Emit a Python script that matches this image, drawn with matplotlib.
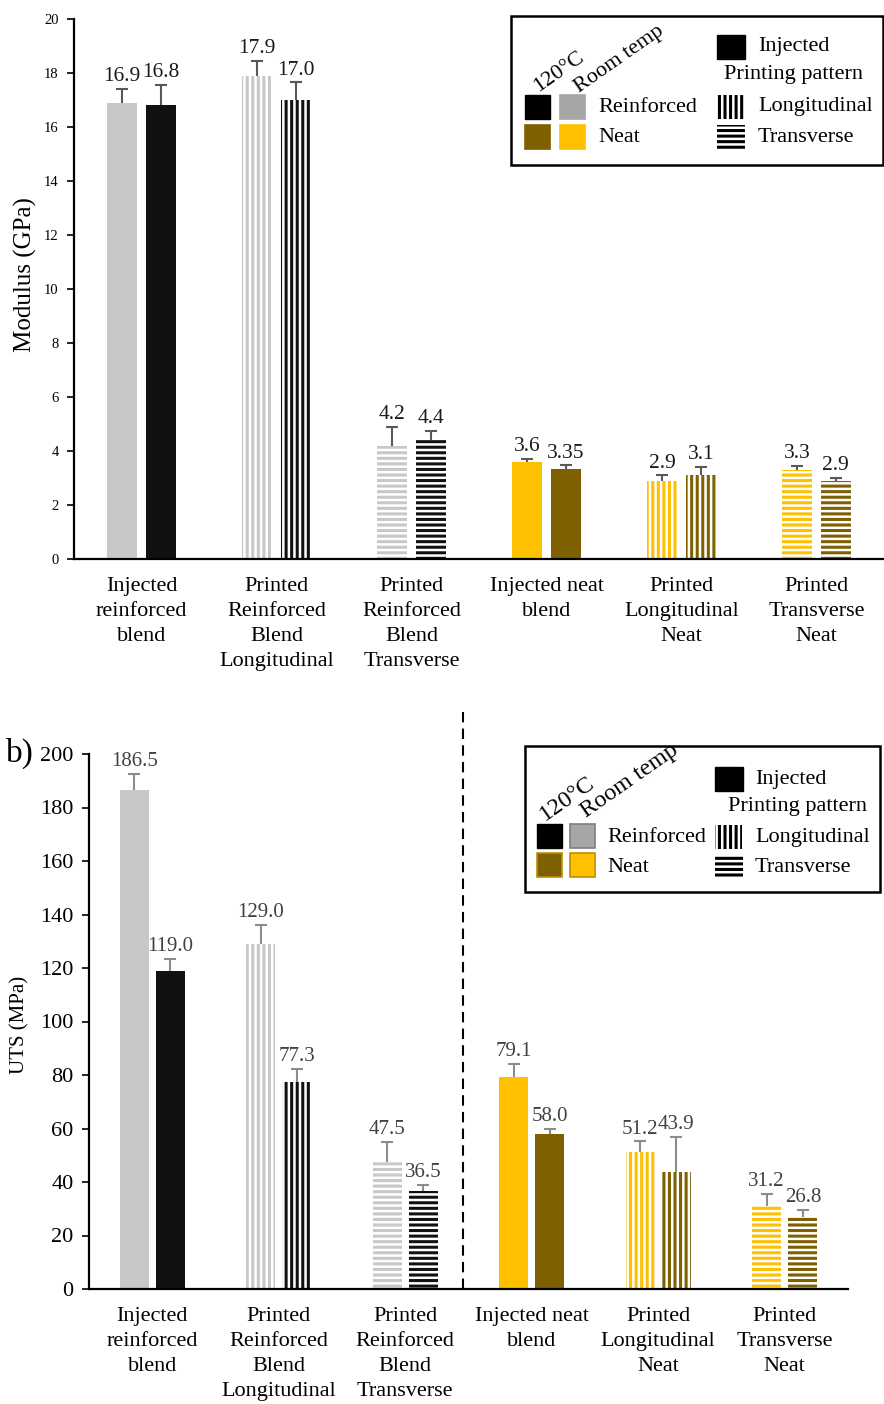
import matplotlib
matplotlib.use("Agg")
import matplotlib.pyplot as plt
from matplotlib.patches import Rectangle

plt.rcParams["font.family"] = ["Liberation Serif", "DejaVu Serif"]
plt.rcParams["hatch.linewidth"] = 2.2

# ---------------- data ----------------
categories = [
    "Injected\nreinforced\nblend",
    "Printed\nReinforced\nBlend\nLongitudinal",
    "Printed\nReinforced\nBlend\nTransverse",
    "Injected neat\nblend",
    "Printed\nLongitudinal\nNeat",
    "Printed\nTransverse\nNeat",
]

modulus_room = [16.9, 17.9, 4.2, 3.6, 2.9, 3.3]
modulus_room_err = [0.5, 0.55, 0.7, 0.12, 0.2, 0.15]
modulus_hot = [16.8, 17.0, 4.4, 3.35, 3.1, 2.9]
modulus_hot_err = [0.75, 0.65, 0.35, 0.12, 0.3, 0.1]
modulus_room_labels = ["16.9", "17.9", "4.2", "3.6", "2.9", "3.3"]
modulus_hot_labels = ["16.8", "17.0", "4.4", "3.35", "3.1", "2.9"]

uts_room = [186.5, 129.0, 47.5, 79.1, 51.2, 31.2]
uts_room_err = [6.0, 7.0, 7.5, 5.0, 4.0, 4.5]
uts_hot = [119.0, 77.3, 36.5, 58.0, 43.9, 26.8]
uts_hot_err = [4.4, 5.0, 2.5, 2.0, 13.0, 2.7]

modulus_ticks = list(range(0, 21, 2))
uts_ticks = list(range(0, 201, 20))

# ---------------- styles ----------------
GRAY = "#C8C8C8"
GRAY_LEG = "#A6A6A6"
BLACK = "#111111"
GOLD = "#FFC000"
BROWN = "#7F6000"

room_colors = [GRAY, GRAY, GRAY, GOLD, GOLD, GOLD]
hot_colors = [BLACK, BLACK, BLACK, BROWN, BROWN, BROWN]
patterns = [None, "|||", "---", None, "|||", "---"]

W, H = 884, 1404
fig = plt.figure(figsize=(W / 100, H / 100), dpi=100)


def draw_bars(ax, room, room_err, hot, hot_err, err_color, width, offset):
    for i in range(len(categories)):
        for val, err, col, dx in ((room[i], room_err[i], room_colors[i], -offset),
                                  (hot[i], hot_err[i], hot_colors[i], offset)):
            if patterns[i] is None:
                ax.bar(i + dx, val, width, color=col, linewidth=0, zorder=2)
            else:
                ax.bar(i + dx, val, width, facecolor="white", edgecolor=col,
                       hatch=patterns[i], linewidth=0, zorder=2)
            eb = ax.errorbar(i + dx, val, yerr=[[0], [err]], fmt="none",
                             ecolor=err_color, elinewidth=1.5, capsize=4.5,
                             capthick=1.5, zorder=3)
            # upper cap only
            eb[1][0].set_visible(False)


def style_axes(ax, ticks, tick_fs, ylim):
    ax.set_xlim(-0.5, 5.5)
    ax.set_ylim(*ylim)
    ax.set_yticks(ticks)
    ax.set_yticklabels([str(t) for t in ticks], fontsize=tick_fs)
    ax.set_xticks(range(len(categories)))
    ax.set_xticklabels(categories, fontsize=16, linespacing=1.42)
    ax.tick_params(axis="x", length=0, pad=13)
    ax.tick_params(axis="y", direction="out", length=5, width=1.2, pad=6)
    for s in ("top", "right"):
        ax.spines[s].set_visible(False)
    for s in ("left", "bottom"):
        ax.spines[s].set_linewidth(1.6)
        ax.spines[s].set_color("black")


# ---------------- (a) modulus ----------------
ax1 = fig.add_axes([74 / W, 1 - 559 / H, (884 - 74) / W, 540 / H])
draw_bars(ax1, modulus_room, modulus_room_err, modulus_hot, modulus_hot_err,
          "#595959", 0.22, 0.143)
style_axes(ax1, modulus_ticks, 10.5, (0, 20))
ax1.text((25 - 74) / 810, (559 - 275) / 540, "Modulus (GPa)", rotation=90,
         ha="center", va="center", fontsize=18, transform=ax1.transAxes)
for i in range(len(categories)):
    for val, err, lab, dx in ((modulus_room[i], modulus_room_err[i], modulus_room_labels[i], -0.143),
                              (modulus_hot[i], modulus_hot_err[i], modulus_hot_labels[i], 0.143)):
        ax1.annotate(lab, (i + dx, val + err), xytext=(0, 2),
                     textcoords="offset points", ha="center", va="bottom",
                     fontsize=15.5, color="#1a1a1a")

# ---------------- (b) UTS ----------------
ax2 = fig.add_axes([89 / W, 1 - 1289 / H, (848 - 89) / W, 535 / H])
draw_bars(ax2, uts_room, uts_room_err, uts_hot, uts_hot_err,
          "#8c8c8c", 0.23, 0.143)
style_axes(ax2, uts_ticks, 16, (0, 200))
ax2.text((20 - 89) / 759, (1289 - 1025) / 535, "UTS (MPa)", rotation=90,
         ha="center", va="center", fontsize=15, transform=ax2.transAxes)
for i in range(len(categories)):
    for val, err, dx in ((uts_room[i], uts_room_err[i], -0.143),
                         (uts_hot[i], uts_hot_err[i], 0.143)):
        ax2.annotate(f"{val:.1f}", (i + dx, val + err), xytext=(0, 2),
                     textcoords="offset points", ha="center", va="bottom",
                     fontsize=15, color="#404040")
ax2.axvline(2.46, ymin=0, ymax=(1289 - 712) / 535, color="black", lw=1.5,
            ls=(0, (5, 3)), clip_on=False, zorder=1)
fig.text(6 / W, 1 - 762 / H, "b)", fontsize=24, ha="left", va="baseline")


# ---------------- legends ----------------
def legend_box(x0, y0, w, h, lay):
    lax = fig.add_axes([x0 / W, 1 - (y0 + h) / H, w / W, h / H])
    lax.set_xlim(x0, x0 + w)
    lax.set_ylim(y0 + h, y0)
    lax.axis("off")
    lax.add_patch(Rectangle((x0, y0), w, h, fill=False, edgecolor="black",
                            lw=1.8, clip_on=False))
    fs = 16
    X = lambda v: x0 + v
    Y = lambda v: y0 + v
    # column headers
    lax.text(X(lay["c120"][0]), Y(lay["c120"][1]), "120°C", rotation=35,
             fontsize=lay["rot_fs"], ha="center", va="center")
    lax.text(X(lay["room"][0]), Y(lay["room"][1]), "Room temp", rotation=35,
             fontsize=lay["rot_fs"], ha="center", va="center")
    # colour squares
    c1, c2 = lay["sq_x"]
    r1, r2 = lay["sq_y"]
    s = 25
    ge, oe = lay["gray_edge"], lay["gold_edge"]
    lax.add_patch(Rectangle((X(c1), Y(r1)), s, s - 1, color="black"))
    lax.add_patch(Rectangle((X(c2), Y(r1)), s, s - 1, facecolor=GRAY_LEG,
                            edgecolor=ge or GRAY_LEG, lw=1.2))
    lax.add_patch(Rectangle((X(c1), Y(r2)), s, s - 1, facecolor=BROWN,
                            edgecolor=oe or BROWN, lw=1.2))
    lax.add_patch(Rectangle((X(c2), Y(r2)), s, s - 1, facecolor=GOLD,
                            edgecolor=oe or GOLD, lw=1.2))
    tx = lay["txt_x"]
    ty1, ty2 = lay["row_y"]
    lax.text(X(tx), Y(ty1), "Reinforced", fontsize=fs, va="center")
    lax.text(X(tx), Y(ty2), "Neat", fontsize=fs, va="center")
    # printing pattern
    px, ptx = lay["pat_x"], lay["pat_txt_x"]
    iy = lay["inj_y"]
    lax.add_patch(Rectangle((X(px), Y(iy - 12)), 28, 24, color="black"))
    lax.text(X(ptx), Y(iy), "Injected", fontsize=fs, va="center")
    lax.text(X(lay["pp_x"]), Y(lay["pp_y"]), "Printing pattern", fontsize=fs,
             va="center")
    lax.add_patch(Rectangle((X(px), Y(ty1 - 12)), 27, 24, facecolor="white",
                            edgecolor="black", hatch="|||", lw=0))
    lax.text(X(ptx), Y(ty1), "Longitudinal", fontsize=fs, va="center")
    lax.add_patch(Rectangle((X(px), Y(ty2 - 12)), 28, 24, facecolor="white",
                            edgecolor="black", hatch="---", lw=0))
    lax.text(X(ptx), Y(ty2), "Transverse", fontsize=fs, va="center")
    return lax


legend_box(511, 16, 372, 149, dict(
    c120=(48, 56), room=(108, 43), rot_fs=16,
    sq_x=(14, 49), sq_y=(79, 109), txt_x=87, row_y=(91, 121),
    pat_x=206, pat_txt_x=247, inj_y=31, pp_x=213, pp_y=59,
    gray_edge=None, gold_edge=None))

legend_box(525, 746, 355, 146, dict(
    c120=(42, 53), room=(105, 35), rot_fs=17.5,
    sq_x=(12, 45), sq_y=(78, 107), txt_x=82, row_y=(91, 121),
    pat_x=190, pat_txt_x=230, inj_y=33, pp_x=203, pp_y=60,
    gray_edge="#7f7f7f", gold_edge="#BF9000"))

fig.savefig("out.png", dpi=100)
